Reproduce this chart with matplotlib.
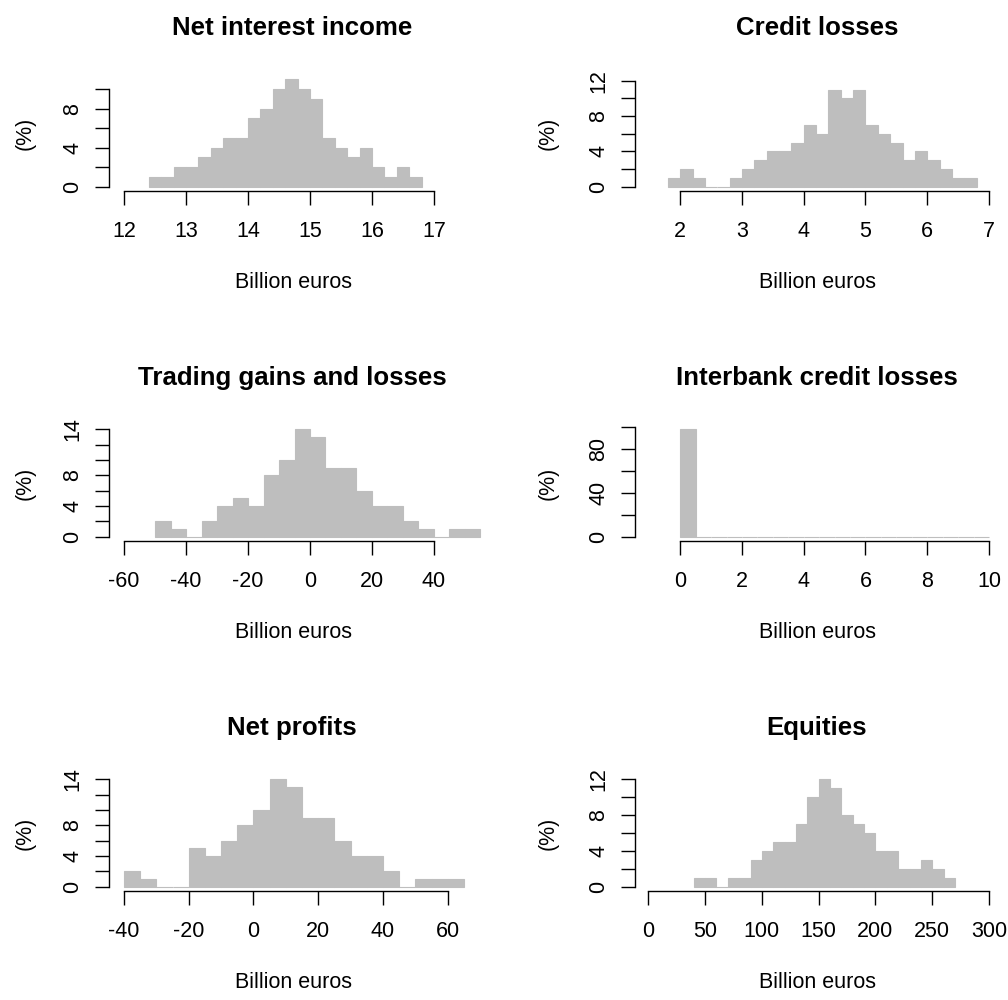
import numpy as np
import matplotlib
matplotlib.use("Agg")
import matplotlib.pyplot as plt

plt.rcParams['font.family'] = ['Liberation Sans', 'DejaVu Sans']

# histogram counts in percent, bins given by start / width
nii_start, nii_width = 12.4, 0.2
nii_counts = [1, 1, 2, 2, 3, 4, 5, 5, 7, 8, 10, 11, 10, 9, 5, 4, 3, 4, 2, 1, 2, 1]

cl_start, cl_width = 1.8, 0.2
cl_counts = [1, 2, 1, 0, 0, 1, 2, 3, 4, 4, 5, 7, 6, 11, 10, 11, 7, 6, 5, 3, 4, 3, 2, 1, 1]

tr_start, tr_width = -50, 5
tr_counts = [2, 1, 0, 2, 4, 5, 4, 8, 10, 14, 13, 9, 9, 6, 4, 4, 2, 1, 0, 1, 1]

ib_start, ib_width = 0, 0.5
ib_counts = [98] + [0] * 19

np_start, np_width = -40, 5
np_counts = [2, 1, 0, 0, 5, 4, 6, 8, 10, 14, 13, 9, 9, 6, 4, 4, 2, 0, 1, 1, 1]

eq_start, eq_width = 40, 10
eq_counts = [1, 1, 0, 1, 1, 3, 4, 5, 5, 7, 10, 12, 11, 8, 7, 6, 4, 4, 2, 2, 3, 2, 1]

titles = ["Net interest income", "Credit losses", "Trading gains and losses",
          "Interbank credit losses", "Net profits", "Equities"]

xticks = [[12, 13, 14, 15, 16, 17], [2, 3, 4, 5, 6, 7],
          [-60, -40, -20, 0, 20, 40], [0, 2, 4, 6, 8, 10],
          [-40, -20, 0, 20, 40, 60], [0, 50, 100, 150, 200, 250, 300]]
yticks = [[0, 2, 4, 6, 8, 10], [0, 2, 4, 6, 8, 10, 12],
          [0, 2, 4, 6, 8, 10, 12, 14], [0, 20, 40, 60, 80, 100],
          [0, 2, 4, 6, 8, 10, 12, 14], [0, 2, 4, 6, 8, 10, 12]]
ylabeled = [[0, 4, 8], [0, 4, 8, 12], [0, 4, 8, 14], [0, 40, 80],
            [0, 4, 8, 14], [0, 4, 8, 12]]

hists = [(nii_start, nii_width, nii_counts), (cl_start, cl_width, cl_counts),
         (tr_start, tr_width, tr_counts), (ib_start, ib_width, ib_counts),
         (np_start, np_width, np_counts), (eq_start, eq_width, eq_counts)]

# axis ranges (R-like usr extents)
xlims = [(11.758, 17.742), (1.266, 7.26), (-64.84, 54.84),
         (-1.467, 10.52), (-44.63, 69.98), (-11.71, 314.0)]
ylims = [(-0.44, 11.44), (-0.49, 12.65), (-0.56, 14.56),
         (-3.92, 101.92), (-0.56, 14.56), (-0.48, 12.48)]

W, H = 1008, 1000
fig = plt.figure(figsize=(W / 100, H / 100), dpi=100)

GREY = '#BEBEBE'
FS = 15.5
col_x = [(109, 480), (635, 1005)]
title_x = [292, 817]
xlab_x = [293.5, 817.5]
ylab_x = [25, 548]

for i, (start, width, counts) in enumerate(hists):
    row, col = divmod(i, 2)
    x0, x1 = col_x[col]
    bottom = 191 + 350 * row
    top = bottom - 116
    ax = fig.add_axes([x0 / W, 1 - bottom / H, (x1 - x0) / W, (bottom - top) / H])

    edges = start + width * np.arange(len(counts))
    ax.bar(edges, counts, width=width, align='edge', color=GREY,
           edgecolor=GREY, linewidth=0.8, clip_on=False)

    ax.set_xlim(*xlims[i])
    ax.set_ylim(*ylims[i])
    ax.patch.set_visible(False)
    for s in ['top', 'right']:
        ax.spines[s].set_visible(False)
    ax.spines['left'].set_bounds(yticks[i][0], yticks[i][-1])
    ax.spines['bottom'].set_bounds(xticks[i][0], xticks[i][-1])
    ax.spines['left'].set_linewidth(1.0)
    ax.spines['bottom'].set_linewidth(1.0)

    ax.set_xticks(xticks[i])
    ax.set_xticklabels([str(t) for t in xticks[i]])
    ax.set_yticks(yticks[i])
    ax.set_yticklabels([str(t) if t in ylabeled[i] else '' for t in yticks[i]],
                       rotation=90, va='center')
    ax.tick_params(axis='both', length=9.8, width=1.0, labelsize=FS, colors='black')
    ax.tick_params(axis='x', pad=12)
    ax.tick_params(axis='y', pad=8.5)

    fig.text(title_x[col] / W, 1 - (35 + 350 * row) / H, titles[i],
             ha='center', va='baseline', fontsize=FS * 1.2, fontweight='bold')
    fig.text(xlab_x[col] / W, 1 - (288 + 350 * row) / H, "Billion euros",
             ha='center', va='baseline', fontsize=FS)
    fig.text(ylab_x[col] / W, 1 - (133 + 350 * row) / H, "(%)",
             ha='center', va='center', rotation=90, fontsize=FS)

fig.savefig("out.png", dpi=100)
